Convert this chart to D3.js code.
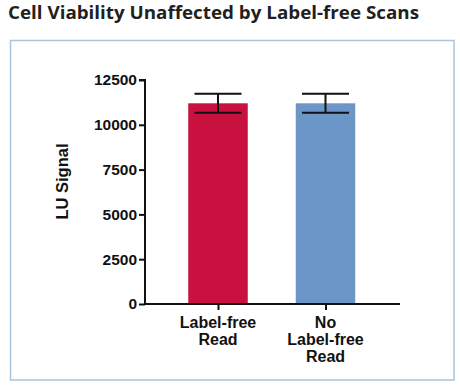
<!DOCTYPE html>
<html><head><meta charset="utf-8">
<script src="https://cdn.jsdelivr.net/npm/d3@7"></script>
<style>body{margin:0;background:#fff}svg{display:block}</style>
</head><body>
<svg id="c" width="460" height="385"></svg>
<script>
const categories = [["Label-free","Read"],["No","Label-free","Read"]];
const values = [11200, 11200];
const errors = [530, 530];
const colors = ["#c8113f", "#6b96c7"];
const yTicks = [0, 2500, 5000, 7500, 10000, 12500];
const title = "Cell Viability Unaffected by Label-free Scans";
const yLabel = "LU Signal";

const svg = d3.select("#c");
svg.append("text").attr("x", 8).attr("y", 18.5)
  .attr("font-family", "Open Sans, Noto Sans, sans-serif").attr("font-weight", "bold")
  .attr("font-size", 17).attr("fill", "#231f20").text(title)
  .attr("textLength", 411).attr("lengthAdjust", "spacingAndGlyphs");

svg.append("rect").attr("x", 10.5).attr("y", 40.5).attr("width", 443.5).attr("height", 339.5)
  .attr("fill", "none").attr("stroke", "#a9c4dd").attr("stroke-width", 1.5);

const x = d3.scaleBand().domain(d3.range(values.length)).range([145, 400]).paddingInner(0.8).paddingOuter(0.4);
// Position-based centers
const xc = d3.scalePoint().domain(d3.range(values.length)).range([218, 325.5]);
const y = d3.scaleLinear().domain([0, 12500]).range([304, 80]);
const bw = 59.5;

const g = svg.append("g");
g.selectAll("rect.bar").data(values).join("rect").attr("class", "bar")
  .attr("x", (d, i) => xc(i) - bw / 2).attr("width", bw)
  .attr("y", d => y(d)).attr("height", d => y(0) - y(d))
  .attr("fill", (d, i) => colors[i]);

const eb = g.selectAll("g.eb").data(values).join("g").attr("class", "eb");
eb.append("line").attr("x1", (d, i) => xc(i)).attr("x2", (d, i) => xc(i))
  .attr("y1", (d, i) => y(d + errors[i])).attr("y2", (d, i) => y(d - errors[i]));
eb.append("line").attr("x1", (d, i) => xc(i) - 23.5).attr("x2", (d, i) => xc(i) + 23.5)
  .attr("y1", (d, i) => y(d + errors[i])).attr("y2", (d, i) => y(d + errors[i]));
eb.append("line").attr("x1", (d, i) => xc(i) - 23.5).attr("x2", (d, i) => xc(i) + 23.5)
  .attr("y1", (d, i) => y(d - errors[i])).attr("y2", (d, i) => y(d - errors[i]));
eb.selectAll("line").attr("stroke", "#111").attr("stroke-width", 2);

const yAxis = d3.axisLeft(y).tickValues(yTicks).tickSize(6).tickPadding(2).tickFormat(d3.format("d"));
const ya = svg.append("g").attr("transform", "translate(145,0)").call(yAxis);
ya.select(".domain").attr("d", "M-6,80H0V304").attr("stroke-width", 2).attr("stroke", "#111");
ya.selectAll(".tick line").attr("stroke-width", 2).attr("stroke", "#111");
ya.selectAll(".tick text").attr("font-family", "Liberation Sans, Arial, sans-serif")
  .attr("font-weight", "bold").attr("font-size", 15.5).attr("fill", "#111");

const xAxis = d3.axisBottom(xc).tickSize(6).tickFormat("");
const xa = svg.append("g").attr("transform", "translate(0,304)").call(xAxis);
xa.select(".domain").attr("d", "M145,0H400").attr("stroke-width", 2).attr("stroke", "#111");
xa.selectAll(".tick line").attr("stroke-width", 2).attr("stroke", "#111");

svg.selectAll("text.xl").data(categories).join("text").attr("class", "xl")
  .attr("text-anchor", "middle").attr("font-family", "Liberation Sans, Arial, sans-serif")
  .attr("font-weight", "bold").attr("font-size", 16).attr("fill", "#111")
  .each(function (lines, i) {
    d3.select(this).selectAll("tspan").data(lines).join("tspan")
      .attr("x", xc(i)).attr("y", (d, k) => 328 + k * 17).text(d => d);
  });

svg.append("text").attr("transform", "translate(68,181.5) rotate(-90)")
  .attr("text-anchor", "middle").attr("font-family", "Liberation Sans, Arial, sans-serif")
  .attr("font-weight", "bold").attr("font-size", 16.5).attr("fill", "#111").text(yLabel);
</script>
</body></html>
